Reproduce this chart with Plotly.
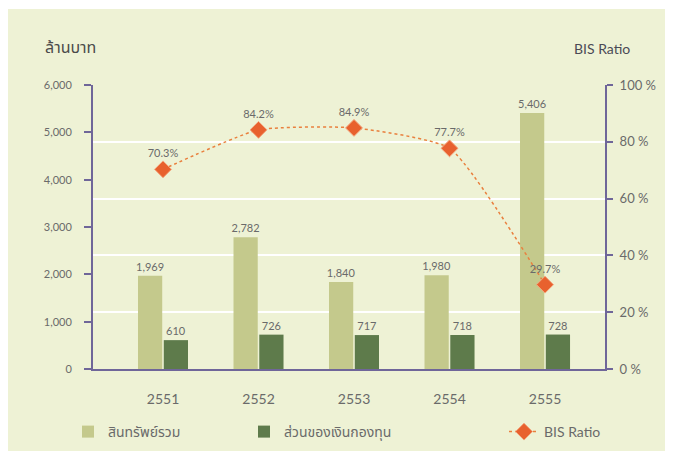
import plotly.graph_objects as go

years = ["2551", "2552", "2553", "2554", "2555"]
total_assets = [1969, 2782, 1840, 1980, 5406]
capital_funds = [610, 726, 717, 718, 728]
bis_ratio = [70.3, 84.2, 84.9, 77.7, 29.7]

left_ticks = [0, 1000, 2000, 3000, 4000, 5000, 6000]
right_ticks = [0, 20, 40, 60, 80, 100]
right_tick_labels = [f"{v} %" for v in right_ticks]

FONT = "Lato, 'Noto Sans Thai', 'Noto Sans', sans-serif"
AXIS_COLOR = "#6f6699"
TXT = "#6a6a6a"

# plot area in px
L, R, T, B = 93, 605, 85, 369
W, H = 674, 451
pw, ph = R - L, B - T

def px(x):
    return (x - L) / pw

def py(y):
    return (B - y) / ph

fig = go.Figure()

fig.add_trace(go.Bar(
    x=years, y=total_assets, name="สินทรัพย์รวม",
    marker=dict(color="#c4c98c", line=dict(width=0)),
    text=[f"{v:,}" for v in total_assets], textposition="outside",
    constraintext="none",
    textfont=dict(size=11, color=TXT, family=FONT),
    cliponaxis=False, legend="legend", showlegend=True,
))
fig.add_trace(go.Bar(
    x=years, y=capital_funds, name="ส่วนของเงินกองทุน",
    marker=dict(color="#5e7b4b", line=dict(width=0)),
    text=[f"{v:,}" for v in capital_funds], textposition="outside",
    constraintext="none",
    textfont=dict(size=11, color=TXT, family=FONT),
    cliponaxis=False, legend="legend2", showlegend=True,
))
fig.add_trace(go.Scatter(
    x=years, y=bis_ratio, name="BIS Ratio", yaxis="y2",
    mode="lines+markers+text",
    line=dict(color="#e9803e", width=1.5, dash="dot", shape="spline", smoothing=0.5),
    marker=dict(symbol="diamond", size=13, color="#e8612e",
                line=dict(color="#f3a57c", width=1)),
    text=[f"{v}%" for v in bis_ratio], textposition="top center",
    textfont=dict(size=11, color=TXT, family=FONT),
    cliponaxis=False, legend="legend3", showlegend=True,
))

fig.add_shape(type="rect", xref="paper", yref="paper", layer="below",
              x0=px(8), x1=px(665), y0=py(451), y1=py(9),
              fillcolor="#eef2d5", line=dict(width=0))

fig.add_annotation(text="ล้านบาท", xref="paper", yref="paper",
                   x=px(43), y=py(47), xanchor="left", yanchor="middle",
                   showarrow=False, font=dict(size=16, color="#4a4a4a", family=FONT))
fig.add_annotation(text="BIS Ratio", xref="paper", yref="paper",
                   x=px(572), y=py(49), xanchor="left", yanchor="middle",
                   showarrow=False, font=dict(size=14, color="#4a4a55", family=FONT))

leg_common = dict(orientation="h", yanchor="middle", xanchor="left",
                  xref="container", yref="container",
                  bgcolor="rgba(0,0,0,0)", font=dict(size=14, color=TXT, family=FONT))

LY = 1 - 432 / H
fig.update_layout(
    width=W, height=H,
    showlegend=True,
    margin=dict(l=L, r=W - R, t=T, b=H - B, pad=0, autoexpand=False),
    paper_bgcolor="white", plot_bgcolor="rgba(0,0,0,0)",
    barmode="group", bargap=0.46, bargroupgap=0.06,
    font=dict(family=FONT, color=TXT),
    legend=dict(x=68 / W, y=LY, **leg_common),
    legend2=dict(x=244 / W, y=LY, **leg_common),
    legend3=dict(x=504 / W, y=LY, **leg_common),
    xaxis=dict(type="category", range=[-0.733, 4.628], showgrid=False,
               showline=True, linecolor=AXIS_COLOR, linewidth=2,
               ticks="", tickfont=dict(size=14, color=TXT), ticklabelstandoff=16,
               zeroline=False),
    yaxis=dict(range=[0, 6000], tickvals=left_ticks, tickformat=",d",
               showgrid=False, zeroline=False,
               showline=True, linecolor=AXIS_COLOR, linewidth=2,
               ticks="outside", ticklen=7, tickwidth=2, tickcolor=AXIS_COLOR,
               tickfont=dict(size=11, color=TXT), ticklabelstandoff=10),
    yaxis2=dict(range=[0, 100], tickvals=right_ticks, ticktext=right_tick_labels,
                overlaying="y", side="right",
                showgrid=True, gridcolor="white", gridwidth=2, zeroline=False,
                showline=True, linecolor=AXIS_COLOR, linewidth=2,
                ticks="outside", ticklen=6, tickwidth=2, tickcolor=AXIS_COLOR,
                tickfont=dict(size=13, color=TXT), ticklabelstandoff=4),
)

fig.write_html("out.html")
